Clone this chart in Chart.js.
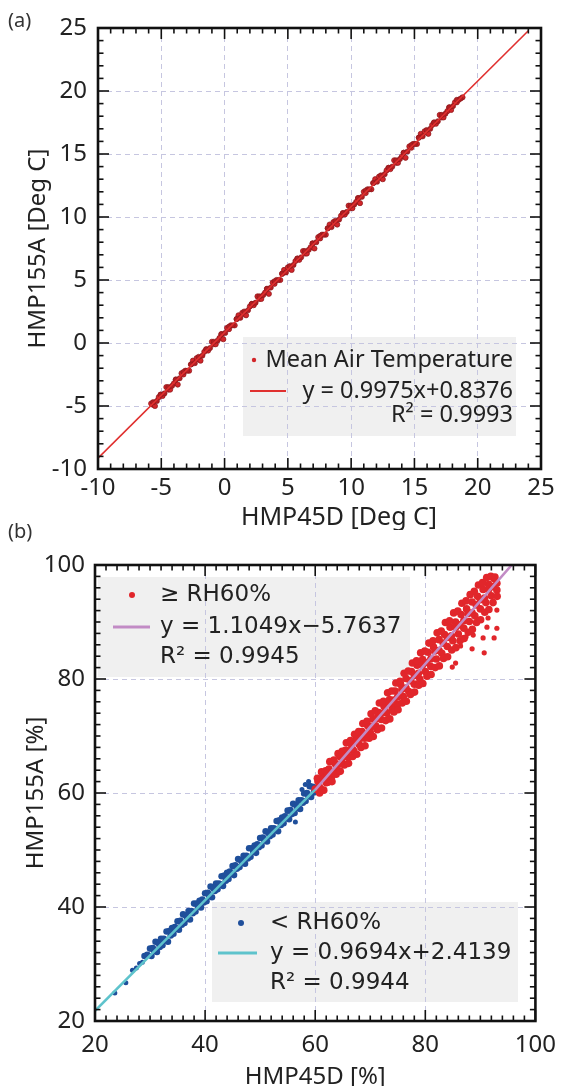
<!DOCTYPE html>
<html><head><meta charset="utf-8">
<script src="https://cdn.jsdelivr.net/npm/chart.js@4.4.1/dist/chart.umd.min.js"></script>
<style>
html,body{margin:0;padding:0;background:#fff;overflow:hidden;width:566px;height:1086px;position:relative;}
canvas{position:absolute;left:0;display:block;}
#c1{top:0;}
#c2{top:505px;}
</style></head><body>
<canvas id="c1" width="566" height="530"></canvas>
<canvas id="c2" width="566" height="595"></canvas>
<script>
// ---------------- (a) Mean air temperature ----------------
const tempTicks = [-10, -5, 0, 5, 10, 15, 20, 25];
const tempX = [-5.8,-5.5,-5.2,-4.9,-4.6,-4.3,-4.0,-3.7,-3.4,-3.1,-2.8,-2.5,-2.2,-1.9,-1.6,-1.3,-1.0,-0.7,-0.4,-0.1,0.2,0.5,0.8,1.1,1.4,1.7,2.0,2.3,2.6,2.9,3.2,3.5,3.8,4.1,4.4,4.7,5.0,5.3,5.6,5.9,6.2,6.5,6.8,7.1,7.4,7.7,8.0,8.3,8.6,8.9,9.2,9.5,9.8,10.1,10.4,10.7,11.0,11.3,11.6,11.9,12.2,12.5,12.8,13.1,13.4,13.7,14.0,14.3,14.6,14.9,15.2,15.5,15.8,16.1,16.4,16.7,17.0,17.3,17.6,17.9,18.2,18.5,18.8];
const tempY = [-4.8,-5.0,-4.3,-4.2,-3.5,-3.7,-3.2,-3.3,-2.4,-2.2,-2.2,-1.4,-1.2,-1.4,-0.7,-0.6,0.1,-0.1,0.4,0.3,1.2,1.4,1.4,2.2,2.4,2.2,2.9,3.0,3.7,3.5,4.0,3.9,4.8,5.0,5.0,5.8,6.0,5.8,6.5,6.6,7.3,7.1,7.6,7.5,8.4,8.6,8.6,9.4,9.6,9.4,10.1,10.2,10.9,10.7,11.2,11.1,12.0,12.2,12.2,13.0,13.2,13.0,13.7,13.8,14.5,14.3,14.8,14.7,15.6,15.8,15.8,16.6,16.8,16.6,17.3,17.4,18.1,17.9,18.4,18.5,19.1,19.3,19.5];
const tempX2 = [-5.65,-5.05,-4.45,-3.85,-3.25,-2.65,-2.05,-1.45,-0.85,-0.25,0.35,0.95,1.55,2.15,2.75,3.35,3.95,4.55,5.15,5.75,6.35,6.95,7.55,8.15,8.75,9.35,9.95,10.55,11.15,11.75,12.35,12.95,13.55,14.15,14.75,15.35,15.95,16.55,17.15,17.75,18.35];
const tempY2 = [-4.9,-4.1,-3.7,-2.9,-2.5,-1.7,-1.3,-0.5,-0.1,0.7,1.1,1.9,2.3,3.1,3.5,4.3,4.7,5.5,5.9,6.7,7.1,7.9,8.3,9.1,9.5,10.3,10.7,11.5,11.9,12.7,13.1,13.9,14.3,15.1,15.5,16.3,16.7,17.5,17.9,18.7,19.1];
const tempX3 = [-5.65,-5.35,-5.05,-4.75,-4.45,-4.15,-3.85,-3.55,-3.25,-2.95,-2.65,-2.35,-2.05,-1.75,-1.45,-1.15,-0.85,-0.55,-0.25,0.05,0.35,0.65,0.95,1.25,1.55,1.85,2.15,2.45,2.75,3.05,3.35,3.65,3.95,4.25,4.55,4.85,5.15,5.45,5.75,6.05,6.35,6.65,6.95,7.25,7.55,7.85,8.15,8.45,8.75,9.05,9.35,9.65,9.95,10.25,10.55,10.85,11.15,11.45,11.75,12.05,12.35,12.65,12.95,13.25,13.55,13.85,14.15,14.45,14.75,15.05,15.35,15.65,15.95,16.25,16.55,16.85,17.15,17.45,17.75,18.05,18.35,18.65];
const tempY3 = [-4.7,-4.6,-4.1,-4.0,-3.5,-3.4,-2.9,-2.8,-2.3,-2.2,-1.7,-1.6,-1.1,-1.0,-0.5,-0.4,0.1,0.2,0.7,0.8,1.3,1.4,1.9,2.0,2.5,2.6,3.1,3.2,3.7,3.8,4.3,4.4,4.9,5.0,5.5,5.6,6.1,6.2,6.7,6.8,7.3,7.4,7.9,8.0,8.5,8.6,9.1,9.2,9.7,9.8,10.3,10.4,10.9,11.0,11.5,11.6,12.1,12.2,12.7,12.8,13.3,13.4,13.9,14.0,14.5,14.6,15.1,15.2,15.7,15.8,16.3,16.4,16.9,17.0,17.5,17.6,18.1,18.2,18.7,18.8,19.3,19.4];
const tempFitX = [-10, 24];
const tempFitY = [-9.14, 24.78];

// ---------------- (b) Relative humidity ----------------
const rhTicks = [20, 40, 60, 80, 100];
// < RH60%
const blueAX = [29,29.5,30,30.5,31,31.5,32,32.5,33,33.5,34,34.5,35,35.5,36,36.5,37,37.5,38,38.5,39,39.5,40,40.5,41,41.5,42,42.5,43,43.5,44,44.5,45,45.5,46,46.5,47,47.5,48,48.5,49,49.5,50,50.5,51,51.5,52,52.5,53,53.5,54,54.5,55,55.5,56,56.5,57,57.5,58,58.5,59,59.5,60];
const blueAY = [31.4,31.6,32.7,32.8,33.9,33.7,34.4,34.4,35.7,35.8,36.3,36.5,37.5,37.6,38.7,38.5,39.3,39.3,40.6,40.6,41.1,41.3,42.4,42.5,43.6,43.3,44.1,44.1,45.4,45.5,46.0,46.2,47.2,47.3,48.4,48.2,49.0,49.0,50.3,50.3,50.8,51.0,52.1,52.2,53.3,53.0,53.8,53.8,55.1,55.2,55.7,55.9,56.9,57.0,58.1,57.9,58.7,58.7,59.9,60.0,61.2,61.1,60.9];
const blueBX = [30.25,30.75,31.25,31.75,32.25,32.75,33.25,33.75,34.25,34.75,35.25,35.75,36.25,36.75,37.25,37.75,38.25,38.75,39.25,39.75,40.25,40.75,41.25,41.75,42.25,42.75,43.25,43.75,44.25,44.75,45.25,45.75,46.25,46.75,47.25,47.75,48.25,48.75,49.25,49.75,50.25,50.75,51.25,51.75,52.25,52.75,53.25,53.75,54.25,54.75,55.25,55.75,56.25,56.75,57.25,57.75,58.25,58.75,59.25,59.75];
const blueBY = [31.4,32.3,32.1,33.0,33.3,34.2,33.9,35.0,35.3,36.2,36.0,36.9,37.2,38.0,37.8,38.9,39.2,40.1,39.9,40.8,41.0,41.9,41.7,42.8,43.1,44.0,43.7,44.6,44.9,45.8,45.6,46.7,47.0,47.8,47.6,48.5,48.8,49.7,49.5,50.5,50.8,51.7,51.5,52.4,52.7,53.6,53.3,54.4,54.7,55.6,55.4,56.3,56.5,57.4,57.2,58.3,58.6,59.5,59.3,60.1];
const blueCX = [23.6,25.6,26.8,27.5,28.1,28.6,56.4,58.2,58.8,57.6];
const blueCY = [24.9,26.7,28.9,29.3,30.1,30.3,54.9,61.5,62.0,60.6];
// >= RH60%
const redMX = [60,60.75,61.5,62.25,63,63.75,64.5,65.25,66,66.75,67.5,68.25,69,69.75,70.5,71.25,72,72.75,73.5,74.25,75,75.75,76.5,77.25,78,78.75,79.5,80.25,81,81.75,82.5,83.25,84,84.75,85.5,86.25,87,87.75,88.5,89.25,90,90.75,91.5,92.25,93];
const redMY = [60.7,61.1,62.6,63.0,63.6,65.0,65.1,66.4,67.4,67.7,69.2,69.6,70.3,71.6,71.7,73.1,74.0,74.3,75.9,76.3,76.9,78.2,78.4,79.7,80.6,81.0,82.5,82.9,83.5,84.9,85.0,86.3,87.3,87.6,89.1,89.5,90.2,91.5,91.6,93.0,93.9,94.2,95.7,96.2,96.8];
const redUX = [60.4,61.15,61.9,62.65,63.4,64.15,64.9,65.65,66.4,67.15,67.9,68.65,69.4,70.15,70.9,71.65,72.4,73.15,73.9,74.65,75.4,76.15,76.9,77.65,78.4,79.15,79.9,80.65,81.4,82.15,82.9,83.65,84.4,85.15,85.9,86.65,87.4,88.15,88.9,89.65,90.4,91.15,91.9,92.65];
const redUY = [62.6,63.7,63.9,65.5,65.8,66.9,67.3,68.8,69.2,70.3,70.8,72.2,72.6,73.9,74.4,75.8,76.1,77.6,77.9,79.3,79.6,81.0,81.4,82.8,83.2,84.6,84.9,86.3,86.7,88.1,88.4,89.9,90.2,91.6,91.9,93.3,93.7,94.8,95.4,96.5,96.9,97.8,98.0,97.9];
const redLX = [60.8,61.55,62.3,63.05,63.8,64.55,65.3,66.05,66.8,67.55,68.3,69.05,69.8,70.55,71.3,72.05,72.8,73.55,74.3,75.05,75.8,76.55,77.3,78.05,78.8,79.55,80.3,81.05,81.8,82.55,83.3,84.05,84.8,85.55,86.3,87.05,87.8,88.55,89.3,90.05,90.8,91.55,92.3,93.05];
const redLY = [60.0,60.5,61.9,62.0,63.3,63.8,64.9,65.2,66.4,66.8,68.0,68.3,69.6,69.9,71.1,71.4,72.7,73.0,74.2,74.6,75.8,76.1,77.3,77.7,78.9,79.2,80.5,80.8,82.0,82.3,83.6,83.9,85.1,85.5,86.7,87.1,88.2,88.7,89.9,90.4,91.7,92.2,93.4,94.5];
const redUMX = [74.5,75.5,76.5,77.5,78.5,79.5,80.5,81.5,82.5,83.5,84.5,85.5,86.5,87.5,88.5,89.5,90.5,91.5,92.5];
const redUMY = [77.9,79.1,80.1,81.3,82.4,83.4,84.7,85.6,86.9,87.8,89.1,90.0,91.3,92.3,93.5,94.5,95.7,96.6,97.6];
const redLMX = [74,75,76,77,78,79,80,81,82,83,84,85,86,87,88,89,90,91,92,93];
const redLMY = [74.6,75.6,76.9,77.8,79.1,80.0,81.3,82.2,83.5,84.5,85.7,86.7,87.9,88.9,90.1,91.1,92.3,93.4,94.6,95.6];
const redU2X = [60.5,61.5,62.5,63.5,64.5,65.5,66.5,67.5,68.5,69.5,70.5,71.5,72.5,73.5];
const redU2Y = [62.0,63.1,64.2,65.3,66.4,67.5,68.6,69.7,70.8,71.9,73.0,74.1,75.2,76.4];
const redL2X = [61,62,63,64,65,66,67,68,69,70,71,72,73,74];
const redL2Y = [60.7,61.8,62.9,64.0,65.2,66.3,67.4,68.5,69.6,70.7,71.8,72.9,74.0,75.1];
const redOX = [90.5,92.5,93.0,91.2,88.5,90.7,85.5,84.9,87.4,88.7,91.4,93.0,86.4];
const redOY = [87.2,87.2,88.9,89.1,85.3,84.6,82.8,82.1,87.4,87.7,90.7,92.1,85.8];
const highFitX = [60, 95.7];
const highFitY = [60.53, 100];
const lowFitX = [20, 60];
const lowFitY = [21.8, 60.58];

// ---------------- helpers ----------------
const pts = (xs, ys) => xs.map((v, i) => ({x: v, y: ys[i]}));
Chart.defaults.font.family = "'Noto Sans', sans-serif";
Chart.defaults.color = '#222';
Chart.defaults.animation = false;

const GRID = '#c6c6e0';
const TXT = '#222';

const framePlugin = {
  id: 'frame',
  beforeDraw(chart, args, o) {
    const ctx = chart.ctx;
    ctx.save();
    (o.boxes || []).forEach(b => { ctx.fillStyle = '#f0f0f0'; ctx.fillRect(b.x, b.y, b.w, b.h); });
    ctx.restore();
  },
  afterDraw(chart, args, o) {
    const ctx = chart.ctx;
    const {left, right, top, bottom} = chart.chartArea;
    const xs = chart.scales.x, ys = chart.scales.y;
    const seg = (x1, y1, x2, y2) => { ctx.beginPath(); ctx.moveTo(x1, y1); ctx.lineTo(x2, y2); ctx.stroke(); };
    ctx.save();
    ctx.strokeStyle = '#111';
    ctx.lineWidth = 1.6;
    const nx = Math.round((xs.max - xs.min) / o.minorX);
    for (let i = 0; i <= nx; i++) {
      const v = xs.min + i * o.minorX;
      const p = xs.getPixelForValue(v);
      const maj = Math.abs(v / o.majorX - Math.round(v / o.majorX)) < 1e-6;
      const L = maj ? o.majLen : o.minLen;
      seg(p, bottom, p, bottom - L); seg(p, top, p, top + L);
    }
    const ny = Math.round((ys.max - ys.min) / o.minorY);
    for (let i = 0; i <= ny; i++) {
      const v = ys.min + i * o.minorY;
      const p = ys.getPixelForValue(v);
      const maj = Math.abs(v / o.majorY - Math.round(v / o.majorY)) < 1e-6;
      const L = maj ? o.majLen : o.minLen;
      seg(left, p, left + L, p); seg(right, p, right - L, p);
    }
    ctx.lineWidth = 2.6;
    ctx.strokeRect(left, top, right - left, bottom - top);
    (o.legends || []).forEach(L => {
      ctx.fillStyle = L.dotColor;
      ctx.beginPath(); ctx.arc(L.dot.x, L.dot.y, L.dot.r, 0, Math.PI * 2); ctx.fill();
      ctx.strokeStyle = L.lineColor; ctx.lineWidth = L.lineW;
      seg(L.line.x1, L.line.y, L.line.x2, L.line.y);
      ctx.font = L.font; ctx.fillStyle = TXT; ctx.textBaseline = 'middle'; ctx.textAlign = L.align;
      L.lines.forEach(t => ctx.fillText(t.text, L.tx, t.y));
    });
    if (o.panel) {
      ctx.font = o.panel.font; ctx.fillStyle = '#333'; ctx.textAlign = 'left'; ctx.textBaseline = 'middle';
      ctx.fillText(o.panel.text, o.panel.x, o.panel.y);
    }
    ctx.restore();
  }
};

function axis(min, max, tickVals, title, sizeFn, tickPad, titlePad, titleSize) {
  return {
    type: 'linear', min: min, max: max,
    afterBuildTicks: s => { s.ticks = tickVals.map(v => ({value: v})); },
    afterFit: sizeFn,
    ticks: {font: {size: 24}, color: TXT, padding: tickPad, maxRotation: 0, autoSkip: false},
    grid: {color: GRID, lineWidth: 1, drawTicks: false},
    border: {display: false, dash: [5, 4]},
    title: {display: true, text: title, color: TXT, font: {size: titleSize || 24, lineHeight: 1}, padding: titlePad}
  };
}

// ---------- chart (a) ----------
const TRED = '#d2262a', TDARK = '#8a161a';
new Chart(document.getElementById('c1'), {
  type: 'scatter',
  data: {datasets: [
    {data: pts(tempFitX, tempFitY), showLine: true, borderColor: '#e0302f', borderWidth: 1.6, pointRadius: 0},
    {data: pts(tempX3, tempY3), backgroundColor: '#b01e22', borderColor: TDARK, borderWidth: 0.6, pointRadius: 2.6},
    {data: pts(tempX, tempY), backgroundColor: TRED, borderColor: TDARK, borderWidth: 0.7, pointRadius: 2.6},
    {data: pts(tempX2, tempY2), backgroundColor: TRED, borderColor: TDARK, borderWidth: 0.7, pointRadius: 2.6}
  ]},
  options: {
    responsive: false, events: [],
    layout: {padding: {left: 0, top: 28, right: 25, bottom: 0}},
    scales: {
      x: axis(-10, 25, tempTicks, '      HMP45D [Deg C]', s => { s.height = 61; }, 5, {top: 0, bottom: 0}, 25),
      y: axis(-10, 25, tempTicks, 'HMP155A [Deg C]', s => { s.width = 98; }, 11, {top: 26, bottom: 0})
    },
    plugins: {
      legend: {display: false}, tooltip: {enabled: false},
      frame: {
        minorX: 1, majorX: 5, minorY: 1, majorY: 5, majLen: 11, minLen: 5.5,
        boxes: [{x: 243, y: 337, w: 273, h: 99}],
        legends: [{
          font: "23.5px 'Noto Sans'", align: 'right', tx: 513,
          dot: {x: 254, y: 360, r: 2.2}, dotColor: TRED,
          line: {x1: 250, x2: 286, y: 391}, lineColor: '#e0302f', lineW: 2,
          lines: [{text: 'Mean Air Temperature', y: 360}, {text: 'y = 0.9975x+0.8376', y: 391}, {text: 'R² = 0.9993', y: 415}]
        }],
        panel: {text: '(a)', x: 8, y: 21, font: "20px 'Noto Sans'"}
      }
    }
  },
  plugins: [framePlugin]
});

// ---------- chart (b) ----------
const RED = '#e1262b', BLUE = '#1f4f9b', PURPLE = '#c28bc5', CYAN = '#5ec3cc';
const rp = 3.8, bp = 3.3;
const redSet = (xs, ys, r) => ({data: pts(xs, ys), backgroundColor: RED, borderWidth: 0, pointRadius: r});
const blueSet = (xs, ys, r) => ({data: pts(xs, ys), backgroundColor: BLUE, borderWidth: 0, pointRadius: r});
new Chart(document.getElementById('c2'), {
  type: 'scatter',
  data: {datasets: [
    {data: pts(highFitX, highFitY), showLine: true, borderColor: PURPLE, borderWidth: 2.6, pointRadius: 0},
    {data: pts(lowFitX, lowFitY), showLine: true, borderColor: CYAN, borderWidth: 2.6, pointRadius: 0},
    redSet(redMX, redMY, rp),
    redSet(redUX, redUY, rp),
    redSet(redLX, redLY, rp),
    redSet(redUMX, redUMY, rp),
    redSet(redLMX, redLMY, rp),
    redSet(redU2X, redU2Y, rp),
    redSet(redL2X, redL2Y, rp),
    redSet(redOX, redOY, 2.6),
    blueSet(blueAX, blueAY, bp),
    blueSet(blueBX, blueBY, bp),
    blueSet(blueCX, blueCY, 2.5)
  ]},
  options: {
    responsive: false, events: [],
    layout: {padding: {left: 0, top: 60, right: 25, bottom: 0}},
    scales: {
      x: axis(20, 100, rhTicks, 'HMP45D [%]', s => { s.height = 79; }, 10, {top: 0, bottom: 11}),
      y: axis(20, 100, rhTicks, 'HMP155A [%]', s => { s.width = 95; }, 10, {top: 24, bottom: 0})
    },
    plugins: {
      legend: {display: false}, tooltip: {enabled: false},
      frame: {
        minorX: 2, majorX: 20, minorY: 2, majorY: 20, majLen: 11, minLen: 5.5,
        boxes: [{x: 98, y: 72, w: 312, h: 100}, {x: 212, y: 397, w: 306, h: 100}],
        legends: [{
          font: "23px 'DejaVu Sans'", align: 'left', tx: 160,
          dot: {x: 132, y: 90, r: 3}, dotColor: RED,
          line: {x1: 113, x2: 150, y: 122}, lineColor: PURPLE, lineW: 3,
          lines: [{text: '≥ RH60%', y: 90}, {text: 'y = 1.1049x−5.7637', y: 122}, {text: 'R² = 0.9945', y: 152}]
        }, {
          font: "23px 'DejaVu Sans'", align: 'left', tx: 270,
          dot: {x: 241, y: 418, r: 3}, dotColor: BLUE,
          line: {x1: 218, x2: 257, y: 448}, lineColor: CYAN, lineW: 3,
          lines: [{text: '< RH60%', y: 418}, {text: 'y = 0.9694x+2.4139', y: 448}, {text: 'R² = 0.9944', y: 478}]
        }],
        panel: {text: '(b)', x: 8, y: 27, font: "20px 'Noto Sans'"}
      }
    }
  },
  plugins: [framePlugin]
});
</script>
</body></html>
